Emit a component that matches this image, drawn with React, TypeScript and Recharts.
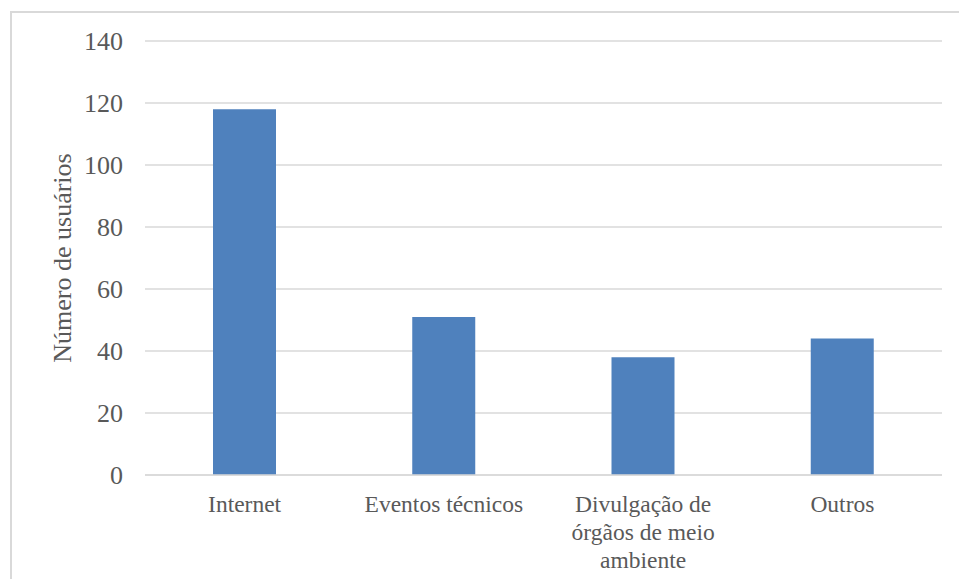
import { BarChart, Bar, XAxis, YAxis, CartesianGrid } from 'recharts';

const categories = ['Internet', 'Eventos técnicos', 'Divulgação de\nórgãos de meio\nambiente', 'Outros'];
const usuarios = [118, 51, 38, 44];
const yTicks = [0, 20, 40, 60, 80, 100, 120, 140];

const data = categories.map((name, i) => ({ name, usuarios: usuarios[i] }));

const FONT = "'Liberation Serif', 'Times New Roman', Times, serif";
const TEXT = '#595959';
const GRID = '#d9d9d9';

function CategoryTick(props: any) {
  const { x, y, payload } = props;
  const lines = String(payload.value).split('\n');
  return (
    <text
      x={x}
      y={y}
      textAnchor="middle"
      fill={TEXT}
      style={{ fontFamily: FONT, fontSize: 23.5 }}
    >
      {lines.map((line, i) => (
        <tspan key={i} x={x} dy={i === 0 ? '0.71em' : 28}>
          {line}
        </tspan>
      ))}
    </text>
  );
}

function AxisTitle(props: any) {
  const { viewBox } = props;
  const cx = viewBox.x + 62;
  const cy = viewBox.y + viewBox.height / 2;
  return (
    <text
      x={cx}
      y={cy}
      transform={`rotate(-90 ${cx} ${cy})`}
      textAnchor="middle"
      dominantBaseline="central"
      fill={TEXT}
      style={{ fontFamily: FONT, fontSize: 26 }}
    >
      Número de usuários
    </text>
  );
}

export default function App() {
  return (
    <div
      style={{
        position: 'fixed',
        left: 0,
        top: 0,
        width: 959,
        height: 579,
        background: '#fff',
        overflow: 'hidden',
        fontFamily: FONT,
      }}
    >
      <div
        style={{
          position: 'absolute',
          left: 10,
          top: 11,
          width: 1000,
          height: 1000,
          borderLeft: `2px solid ${GRID}`,
          borderTop: `2px solid ${GRID}`,
        }}
      />
      <BarChart
        width={959}
        height={579}
        data={data}
        margin={{ top: 41, right: 17, bottom: 0, left: 0 }}
        style={{ position: 'absolute', left: 0, top: 0, fontFamily: FONT }}
      >
        <CartesianGrid stroke={GRID} strokeWidth={1.5} vertical={false} />
        <XAxis
          dataKey="name"
          height={104}
          axisLine={{ stroke: GRID, strokeWidth: 1.5 }}
          tickLine={false}
          tickSize={0}
          tickMargin={20}
          interval={0}
          tick={<CategoryTick />}
        />
        <YAxis
          width={145}
          domain={[0, 140]}
          ticks={yTicks}
          axisLine={false}
          tickLine={false}
          tickSize={0}
          tickMargin={22}
          tick={{ fill: TEXT, fontSize: 26, style: { fontFamily: FONT } }}
          label={<AxisTitle />}
        />
        <Bar dataKey="usuarios" fill="#4f81bd" barSize={63} isAnimationActive={false} />
      </BarChart>
    </div>
  );
}
